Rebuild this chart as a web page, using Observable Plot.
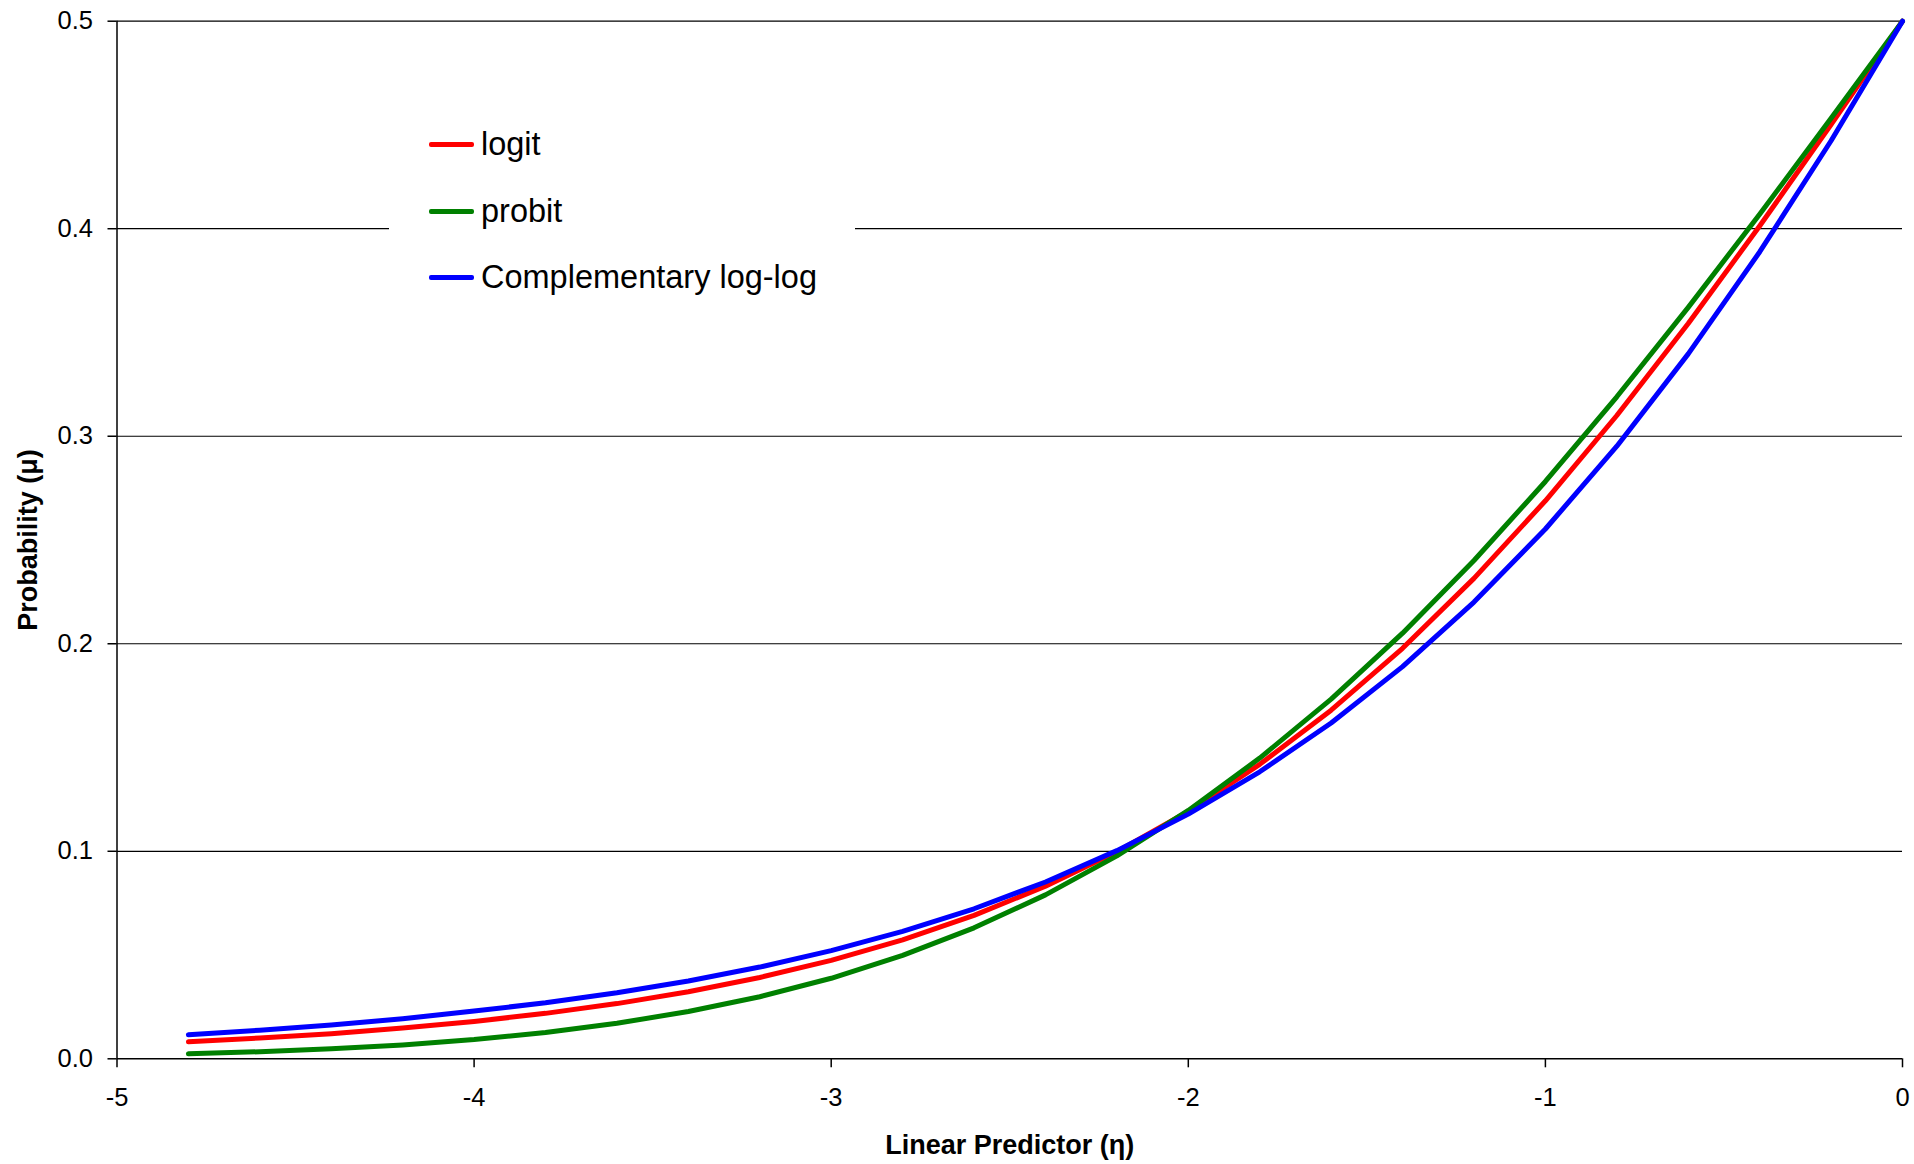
<!DOCTYPE html>
<html><head><meta charset="utf-8">
<script src="https://cdn.jsdelivr.net/npm/d3@7"></script>
<script src="https://cdn.jsdelivr.net/npm/@observablehq/plot@0.6"></script>
<style>
body{margin:0;background:#fff;}
#wrap{position:relative;width:1914px;height:1164px;font-family:"Liberation Sans",Arial,sans-serif;color:#000;}
#legend{position:absolute;left:389px;top:100px;width:466px;height:220px;background:#fff;}
.item{position:absolute;left:429px;height:40px;display:flex;align-items:center;font-size:32.5px;white-space:nowrap;}
.sw{width:45px;height:5px;margin-right:7px;border-radius:2px;}
</style></head><body><div id="wrap"></div>
<script>
const eta = [-4.8,-4.6,-4.4,-4.2,-4.0,-3.8,-3.6,-3.4,-3.2,-3.0,-2.8,-2.6,-2.4,-2.2,-2.0,-1.8,-1.6,-1.4,-1.2,-1.0,-0.8,-0.6,-0.4,-0.2,0];
const logit = [0.0082,0.0100,0.0121,0.0148,0.0180,0.0219,0.0266,0.0323,0.0392,0.0474,0.0573,0.0691,0.0832,0.0998,0.1192,0.1419,0.1680,0.1978,0.2315,0.2689,0.3100,0.3543,0.4013,0.4502,0.5000];
const probit = [0.0024,0.0034,0.0048,0.0067,0.0093,0.0127,0.0171,0.0228,0.0299,0.0388,0.0498,0.0631,0.0790,0.0978,0.1197,0.1449,0.1733,0.2051,0.2401,0.2782,0.3190,0.3621,0.4070,0.4532,0.5000];
const cloglog = [0.0116,0.0138,0.0163,0.0193,0.0230,0.0270,0.0318,0.0375,0.0442,0.0521,0.0614,0.0723,0.0852,0.1003,0.1179,0.1383,0.1618,0.1890,0.2201,0.2553,0.2952,0.3397,0.3888,0.4424,0.5000];
const seriesNames = ["logit","probit","Complementary log-log"];
const seriesColors = ["#ff0000","#008000","#0000ff"];
const xTicks = [-5,-4,-3,-2,-1,0];
const yTicks = [0,0.1,0.2,0.3,0.4,0.5];
const xTitle = "Linear Predictor (η)";
const yTitle = "Probability (μ)";

const seriesValues = [logit, probit, cloglog];
const data = [];
seriesNames.forEach((name, i) => {
  eta.forEach((e, j) => data.push({eta: e, mu: seriesValues[i][j], series: name}));
});

const chart = Plot.plot({
  width: 1914, height: 1164,
  marginLeft: 116.5, marginRight: 12, marginTop: 20.7, marginBottom: 105.7,
  style: {fontFamily: "'Liberation Sans', Arial, sans-serif", fontSize: "25px", color: "#000", background: "#fff", overflow: "visible"},
  x: {domain: [-5, 0]},
  y: {domain: [0, 0.5]},
  color: {domain: seriesNames, range: seriesColors},
  marks: [
    Plot.gridY(yTicks.filter(t => t > 0), {stroke: "#000", strokeOpacity: 1, strokeWidth: 1.2}),
    Plot.axisY(yTicks, {tickSize: 9, tickPadding: 15, tickFormat: d3.format(".1f"), label: null, strokeWidth: 1.5, fontSize: 25.5}),
    Plot.axisX(xTicks, {tickSize: 9, tickPadding: 20, tickFormat: d => String(d), label: null, strokeWidth: 1.5, fontSize: 25.5}),
    Plot.ruleX([-5], {stroke: "#000", strokeWidth: 1.5}),
    Plot.ruleY([0], {stroke: "#000", strokeWidth: 1.5}),
    Plot.line(data, {x: "eta", y: "mu", z: "series", stroke: "series", strokeWidth: 5}),
    Plot.text([xTitle], {text: d => d, frameAnchor: "bottom", textAnchor: "middle", dy: 94.7, lineAnchor: "bottom", fontWeight: "bold", fontSize: 27}),
    Plot.text([yTitle], {text: d => d, frameAnchor: "left", textAnchor: "middle", dx: -80.5, rotate: -90, lineAnchor: "bottom", fontWeight: "bold", fontSize: 27})
  ]
});
const wrap = document.getElementById("wrap");
wrap.appendChild(chart);

const legend = document.createElement("div");
legend.id = "legend";
wrap.appendChild(legend);
const legendY = [144, 211, 277];
seriesNames.forEach((name, i) => {
  const item = document.createElement("div");
  item.className = "item";
  item.style.top = (legendY[i] - 20) + "px";
  const sw = document.createElement("span");
  sw.className = "sw";
  sw.style.background = seriesColors[i];
  const label = document.createElement("span");
  label.textContent = name;
  item.appendChild(sw);
  item.appendChild(label);
  wrap.appendChild(item);
});
</script></body></html>
